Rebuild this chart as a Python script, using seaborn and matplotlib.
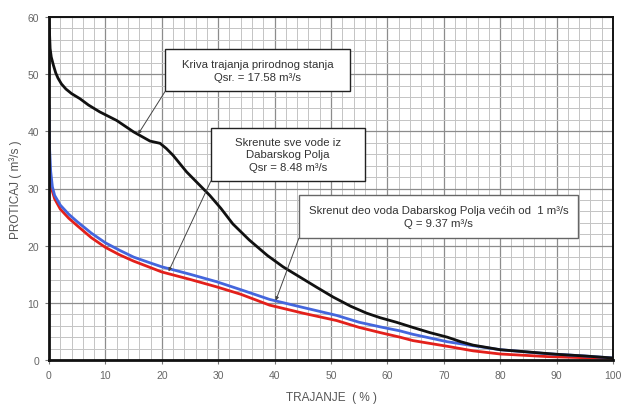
import numpy as np
import pandas as pd
import seaborn as sns
import matplotlib
matplotlib.use("Agg")
import matplotlib.pyplot as plt
from matplotlib.patches import Rectangle
from matplotlib.ticker import MultipleLocator

# --- data ---
natural_x = [0, 0.1, 0.2, 0.4, 0.8, 1.2, 1.6, 2.2, 3, 4, 5.5, 7, 9, 12, 15, 17.9, 19.7,
             20.8, 22, 24.4, 26.8, 28.5, 30.5, 32.6, 35.5, 38.7, 41.5, 44.5, 47.5, 50.4,
             53.5, 56.3, 58.7, 61.6, 64.5, 67.5, 70.6, 73, 75.2, 80, 85, 90, 95, 100]
natural_y = [59.7, 57.0, 54.5, 53.0, 51.5, 50.2, 49.3, 48.3, 47.4, 46.6, 45.7, 44.6, 43.4,
             41.9, 39.9, 38.3, 37.9, 37.0, 35.8, 32.9, 30.5, 28.8, 26.5, 23.8, 21.0,
             18.3, 16.3, 14.5, 12.7, 11.0, 9.4, 8.2, 7.4, 6.6, 5.7, 4.8, 4.0, 3.2, 2.6,
             1.8, 1.4, 1.0, 0.7, 0.35]

partial_x = [0, 0.1, 0.3, 0.6, 1, 2, 3.5, 5, 7.5, 10, 12.5, 15, 17.9, 20, 25, 29.7, 34,
             39.1, 45, 51, 55, 58.7, 62.2, 64.5, 70.6, 75.2, 80, 88.3, 95, 100]
partial_y = [44.5, 37.0, 33.0, 30.3, 28.8, 27.1, 25.5, 24.2, 22.2, 20.5, 19.2, 18.0, 17.0,
             16.3, 15.0, 13.7, 12.3, 10.6, 9.2, 7.8, 6.6, 5.8, 5.1, 4.5, 3.2, 2.5, 1.8,
             1.1, 0.7, 0.35]

all_x = [0, 0.3, 0.6, 1, 2, 3.5, 5, 7.5, 10, 12.5, 15, 17.9, 20, 25, 29.7, 34, 39.1, 45,
         51, 55, 58.7, 62.2, 64.5, 70.6, 75.2, 80, 88.3, 95, 100]
all_y = [32.5, 30.8, 29.5, 28.2, 26.4, 24.8, 23.5, 21.4, 19.7, 18.4, 17.3, 16.2, 15.4,
         14.1, 12.8, 11.5, 9.6, 8.2, 6.9, 5.7, 4.8, 4.0, 3.4, 2.4, 1.6, 1.05, 0.6, 0.4,
         0.25]

x_ticks = list(range(0, 101, 10))
y_ticks = list(range(0, 61, 10))

df = pd.concat([
    pd.DataFrame({"x": natural_x, "y": natural_y, "s": "natural"}),
    pd.DataFrame({"x": all_x, "y": all_y, "s": "all"}),
    pd.DataFrame({"x": partial_x, "y": partial_y, "s": "partial"}),
], ignore_index=True)

sns.set_style("white")
plt.rcParams["font.family"] = ["Liberation Sans", "DejaVu Sans"]

fig = plt.figure(figsize=(6.21, 4.06), dpi=100)
ax = fig.add_axes([49 / 621, 1 - 361 / 406, (613 - 49) / 621, (361 - 18) / 406])

sns.lineplot(data=df, x="x", y="y", hue="s", sort=False, estimator=None,
             palette={"natural": "#111111", "all": "#e3201b", "partial": "#4466dd"},
             hue_order=["all", "partial", "natural"], linewidth=2.0, legend=False,
             ax=ax, zorder=3)

ax.set_xlim(0, 100)
ax.set_ylim(0, 60)
ax.set_xticks(x_ticks)
ax.set_yticks(y_ticks)
ax.xaxis.set_minor_locator(MultipleLocator(2))
ax.yaxis.set_minor_locator(MultipleLocator(2))
ax.grid(which="major", color="#8c8c8c", linewidth=0.9)
ax.grid(which="minor", color="#c4c4c4", linewidth=0.7)
ax.set_axisbelow(True)
ax.tick_params(which="major", direction="out", length=3, width=0.8, color="#777777",
               labelsize=7.5, labelcolor="#666666", pad=4, left=True, bottom=True)
ax.tick_params(which="minor", length=0)
for name, sp in ax.spines.items():
    sp.set_color("#111111")
    sp.set_linewidth(2.0 if name in ("left", "bottom") else 1.4)
    sp.set_zorder(5)

ax.set_xlabel("TRAJANJE  ( % )", fontsize=8.5, color="#555555", labelpad=8)
ax.set_ylabel("PROTICAJ ( m³/s )", fontsize=8.5, color="#555555", labelpad=4)

boxes = [
    ((20.6, 47.0), 32.8, 7.4, "Kriva trajanja prirodnog stanja\nQsr. = 17.58 m³/s",
     (15.8, 39.5), "#222222"),
    ((28.7, 31.3), 27.3, 9.3, "Skrenute sve vode iz\nDabarskog Polja\nQsr = 8.48 m³/s",
     (21.2, 15.5), "#222222"),
    ((44.3, 21.3), 49.5, 7.6,
     "Skrenut deo voda Dabarskog Polja većih od  1 m³/s\nQ = 9.37 m³/s",
     (40.2, 10.4), "#666666"),
]
for (bx, by), bw, bh, txt, tgt, ec in boxes:
    ax.add_patch(Rectangle((bx, by), bw, bh, facecolor="white", edgecolor=ec,
                           linewidth=1.0, zorder=6))
    ax.text(bx + bw / 2, by + bh / 2, txt, ha="center", va="center", fontsize=8.2,
            color="#333333", linespacing=1.35, zorder=7)
    ax.annotate("", xy=tgt, xytext=(bx, by),
                arrowprops=dict(arrowstyle="-|>", color="#444444", lw=0.7,
                                mutation_scale=5, shrinkA=0, shrinkB=0), zorder=6)

fig.savefig("out.png", dpi=100)
